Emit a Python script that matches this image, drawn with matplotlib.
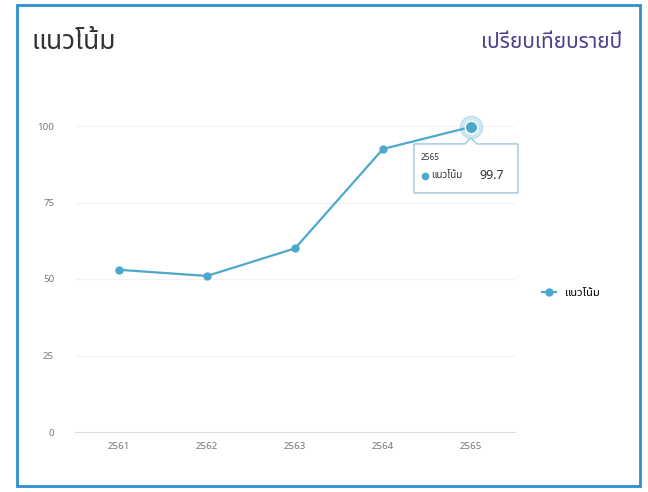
import numpy as np
import matplotlib
matplotlib.use('Agg')
import matplotlib.pyplot as plt
import matplotlib.transforms as mtransforms
from matplotlib import font_manager
from matplotlib.ft2font import FT2Font
from matplotlib.patches import Rectangle, Polygon


# find a font that has Thai glyphs
def thai_font():
    prefer = ['Noto Sans Thai', 'Noto Sans Thai UI', 'Loma', 'Garuda', 'Kinnari', 'Norasi', 'Sarabun']
    found = []
    for f in font_manager.fontManager.ttflist:
        try:
            if 0x0E41 in FT2Font(f.fname).get_charmap():
                found.append(f.name)
        except Exception:
            pass
    for p in prefer:
        if p in found:
            return p
    return found[0] if found else 'DejaVu Sans'


TH = thai_font()
plt.rcParams['font.family'] = [TH, 'DejaVu Sans']

# data
years = ['2561', '2562', '2563', '2564', '2565']
values = [53, 51, 60, 92.5, 99.7]
yticks = [0, 25, 50, 75, 100]
series_name = 'แนวโน้ม'
title_left = 'แนวโน้ม'
title_right = 'เปรียบเทียบรายปี'

line_c = '#4ea8cc'

fig = plt.figure(figsize=(6.48, 4.92), dpi=100)
W, H = 648, 492

# outer frame
fig.patches.append(Rectangle((17 / W, 1 - 486 / H), 623 / W, 481 / H, transform=fig.transFigure,
                             fill=False, edgecolor='#2c8fd0', lw=2))

fig.text(32 / W, 1 - 42 / H, title_left, fontsize=19, color='#333333', va='center', ha='left')
fig.text(622 / W, 1 - 42 / H, title_right, fontsize=15, color='#4d3f8f', va='center', ha='right')

ax = fig.add_axes([75 / W, 1 - 432 / H, 440 / W, 306 / H])
x = np.arange(len(years))
ax.plot(x, values, color=line_c, lw=1.6, marker='o', ms=5, label=series_name, clip_on=False, zorder=3)
# highlighted last point
ax.plot(x[-1], values[-1], 'o', ms=16, color=line_c, alpha=0.25, clip_on=False, zorder=4)
ax.plot(x[-1], values[-1], 'o', ms=9, color=line_c, mec='white', mew=1, clip_on=False, zorder=5)

ax.set_xlim(-0.5, 4.5)
ax.set_ylim(0, 100)
ax.set_xticks(x)
ax.set_xticklabels(years)
ax.set_yticks(yticks)
ax.tick_params(length=0, labelsize=7, colors='#777777', pad=7)
ax.tick_params(axis='y', pad=15)
for s in ['top', 'right', 'left']:
    ax.spines[s].set_visible(False)
ax.spines['bottom'].set_color('#dddddd')
ax.grid(axis='y', color='#f3f3f3', lw=0.8)
ax.set_axisbelow(True)

ax.legend(loc='center left', bbox_to_anchor=(532 / W, 1 - 293 / H), bbox_transform=fig.transFigure,
          frameon=False, handlelength=1.3, prop={'weight': 'bold', 'size': 8})

# tooltip, drawn in pixels relative to the last point
px, py = ax.transData.transform((x[-1], values[-1]))
tt = mtransforms.Affine2D().translate(px, py)
box = [(-57, -17), (-6, -17), (0, -11), (6, -17), (47, -17), (47, -66), (-57, -66)]
ax.add_patch(Polygon(box, closed=True, transform=tt, facecolor='white', edgecolor='#9cc7d8',
                     lw=1, zorder=6, clip_on=False))
ax.text(-50, -31, years[-1], transform=tt, fontsize=6, color='#333333', va='center', zorder=7)
ax.plot([-46], [-49], 'o', ms=4.5, color=line_c, transform=tt, clip_on=False, zorder=7)
ax.text(-40, -49, series_name, transform=tt, fontsize=7, color='#333333', va='center', zorder=7)
ax.text(8, -49, f'{values[-1]}', transform=tt, fontsize=9, fontweight='bold', color='#333333',
        va='center', zorder=7)

fig.savefig('out.png', dpi=100)
